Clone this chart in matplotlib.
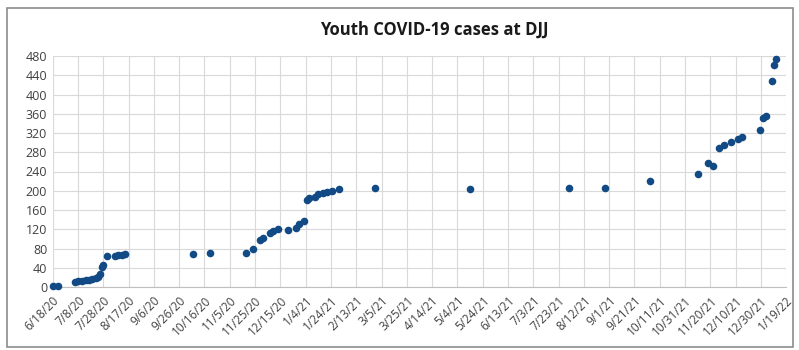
import matplotlib
matplotlib.use('Agg')
from matplotlib import pyplot as plt
import pandas as pd

# data
dates = ['2020-06-18', '2020-06-22', '2020-07-06', '2020-07-08', '2020-07-11',
         '2020-07-14', '2020-07-17', '2020-07-19', '2020-07-22', '2020-07-24',
         '2020-07-25', '2020-07-27', '2020-07-28', '2020-07-31', '2020-08-06',
         '2020-08-09', '2020-08-12', '2020-08-14', '2020-10-07', '2020-10-20',
         '2020-11-18', '2020-11-23', '2020-11-29', '2020-12-01', '2020-12-07',
         '2020-12-09', '2020-12-13', '2020-12-21', '2020-12-27', '2020-12-30',
         '2021-01-03', '2021-01-05', '2021-01-07', '2021-01-11', '2021-01-14',
         '2021-01-18', '2021-01-21', '2021-01-25', '2021-01-30', '2021-02-28',
         '2021-05-14', '2021-07-31', '2021-08-29', '2021-10-03', '2021-11-10',
         '2021-11-18', '2021-11-22', '2021-11-27', '2021-12-01', '2021-12-06',
         '2021-12-12', '2021-12-15', '2021-12-29', '2022-01-01', '2022-01-03',
         '2022-01-08', '2022-01-09', '2022-01-11']
cases = [2, 2, 10, 12, 13,
         14, 15, 17, 18, 21,
         26, 42, 46, 64, 65,
         66, 67, 69, 68, 70,
         70, 78, 98, 101, 113,
         116, 120, 119, 122, 131,
         137, 181, 184, 188, 193,
         196, 198, 200, 203, 205,
         204, 205, 206, 221, 234,
         257, 252, 288, 295, 302,
         308, 311, 326, 351, 355,
         428, 462, 473]

title = 'Youth COVID-19 cases at DJJ'
y_ticks = list(range(0, 481, 40))
x_start = '2020-06-18'
x_end = '2022-01-19'
tick_step_days = 20

plt.rcParams['font.family'] = ['Open Sans', 'DejaVu Sans']

fig = plt.figure(figsize=(7.99, 3.5), dpi=100)
ax = fig.add_axes([0.066, 0.18, 0.918, 0.66])

x = pd.to_datetime(dates)
ax.scatter(x, cases, s=30, color='#124a86', zorder=3, linewidths=0,
           clip_on=False)

ticks = pd.date_range(x_start, x_end, freq=f'{tick_step_days}D')
ax.set_xticks(ticks)
ax.set_xticklabels([f'{d.month}/{d.day}/{d.year % 100}' for d in ticks],
                   rotation=45, ha='right', rotation_mode='anchor',
                   fontsize=8.5, color='#404040')
ax.set_xlim(pd.Timestamp(x_start), pd.Timestamp(x_end))
ax.set_ylim(0, 480)
ax.set_yticks(y_ticks)
ax.set_yticklabels([str(v) for v in y_ticks], fontsize=9, color='#404040')

ax.grid(True, color='#d9d9d9', linewidth=0.8)
ax.set_axisbelow(True)
for s in ['top', 'right', 'left']:
    ax.spines[s].set_visible(False)
ax.spines['bottom'].set_color('#bfbfbf')
ax.tick_params(axis='both', length=0, pad=4)
ax.tick_params(axis='x', pad=5)

fig.text(0.543, 0.915, title, ha='center', va='center', fontsize=12,
         fontweight='bold', color='#1a1a1a')

# chart frame
frame = plt.Rectangle((0.009, 0.01), 0.983, 0.968, transform=fig.transFigure,
                      fill=False, edgecolor='#8c8c8c', linewidth=1.2)
fig.patches.append(frame)

fig.savefig('out.png', dpi=100)
